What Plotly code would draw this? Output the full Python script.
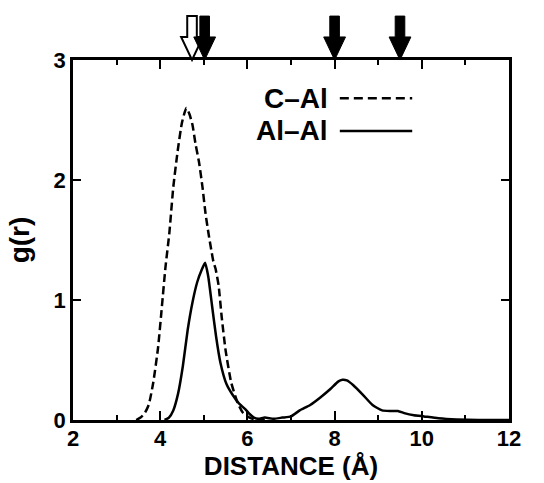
import plotly.graph_objects as go

# ---- data ----
c_al_x = [3.45, 3.55, 3.65, 3.74, 3.84, 3.95, 4.04, 4.12, 4.21, 4.3, 4.4, 4.5, 4.6,
          4.67, 4.74, 4.81, 4.89, 4.97, 5.04, 5.11, 5.17, 5.22, 5.27, 5.34, 5.41, 5.5,
          5.63, 5.78, 5.9, 6.05, 6.2, 6.4]
c_al_y = [0.0, 0.02, 0.06, 0.13, 0.31, 0.6, 0.95, 1.27, 1.56, 1.94, 2.24, 2.48, 2.60,
          2.55, 2.46, 2.3, 2.15, 1.94, 1.72, 1.55, 1.42, 1.32, 1.26, 1.12, 0.86, 0.58,
          0.31, 0.14, 0.06, 0.02, 0.0, 0.0]

al_al_x = [4.1, 4.2, 4.3, 4.41, 4.52, 4.63, 4.74, 4.85, 4.95, 5.03, 5.1, 5.19, 5.28, 5.38,
           5.52, 5.66, 5.8, 5.95, 6.05, 6.15, 6.25, 6.4, 6.6, 6.8, 7.0, 7.2, 7.44, 7.68,
           7.91, 8.08, 8.18, 8.28, 8.43, 8.65, 8.87, 9.09, 9.28, 9.45, 9.62, 9.82, 10.05,
           10.38, 10.8, 11.3, 12.0]
al_al_y = [0.0, 0.02, 0.08, 0.22, 0.45, 0.75, 0.98, 1.15, 1.25, 1.31, 1.2, 0.95, 0.7,
           0.48, 0.3, 0.21, 0.14, 0.09, 0.05, 0.02, 0.01, 0.02, 0.01, 0.02, 0.03, 0.08,
           0.125, 0.19, 0.26, 0.32, 0.335, 0.33, 0.29, 0.21, 0.125, 0.08, 0.075, 0.075,
           0.055, 0.04, 0.03, 0.015, 0.005, 0.0, 0.0]

series_names = ["C\u2013Al", "Al\u2013Al"]
arrow_open_x = [4.73]
arrow_filled_x = [5.02, 8.0, 9.5]

x_tickvals = [2, 4, 6, 8, 10, 12]
y_tickvals = [0, 1, 2, 3]

FONT = "Liberation Sans"

fig = go.Figure()
fig.add_trace(go.Scatter(x=c_al_x, y=c_al_y, mode="lines", name=series_names[0],
                         line=dict(color="black", width=2.5, dash="8px,4px",
                                   shape="spline", smoothing=0.5),
                         showlegend=False))
fig.add_trace(go.Scatter(x=al_al_x, y=al_al_y, mode="lines", name=series_names[1],
                         line=dict(color="black", width=2.5, shape="spline", smoothing=0.5),
                         showlegend=False))

# arrows above the plot
sw, hw = 0.11, 0.25
y_tip, y_head, y_top = 1.0, 1.064, 1.122


def arrow_path(x0):
    return (f"M {x0-sw},{y_top} L {x0+sw},{y_top} L {x0+sw},{y_head} L {x0+hw},{y_head} "
            f"L {x0},{y_tip} L {x0-hw},{y_head} L {x0-sw},{y_head} Z")


shapes = []
for xa in arrow_open_x:
    shapes.append(dict(type="path", path=arrow_path(xa), xref="x", yref="paper",
                       fillcolor="white", line=dict(color="black", width=2), layer="above"))
for xa in arrow_filled_x:
    shapes.append(dict(type="path", path=arrow_path(xa), xref="x", yref="paper",
                       fillcolor="black", line=dict(color="black", width=1), layer="above"))

# legend (text left, line sample right)
leg_y = [0.894, 0.803]
leg_dash = ["9px,5px", "solid"]
annotations = []
for name, yy, dsh in zip(series_names, leg_y, leg_dash):
    annotations.append(dict(text=name, x=0.589, y=yy, xref="paper", yref="paper",
                            xanchor="right", yanchor="middle", showarrow=False,
                            font=dict(family=FONT, size=28, color="black", weight="bold")))
    shapes.append(dict(type="line", x0=0.612, x1=0.778, y0=yy, y1=yy, xref="paper",
                       yref="paper", line=dict(color="black", width=2.5, dash=dsh)))

axis_common = dict(showline=True, linecolor="black", linewidth=2.5, mirror="ticks",
                   ticks="inside", tickcolor="black", tickwidth=2, showgrid=False,
                   zeroline=False,
                   tickfont=dict(family=FONT, size=22, color="black", weight="bold"))

fig.update_layout(
    width=544, height=483,
    margin=dict(l=73, r=35, t=60, b=63),
    plot_bgcolor="white", paper_bgcolor="white",
    font=dict(family=FONT, color="black"),
    xaxis=dict(range=[2, 12], tickvals=x_tickvals, ticklen=9, ticklabelstandoff=-3,
               minor=dict(dtick=1, ticklen=5, ticks="inside", tickcolor="black", tickwidth=2),
               title=dict(text="DISTANCE (\u00c5)", standoff=2,
                          font=dict(family=FONT, size=26, color="black", weight="bold")),
               **axis_common),
    yaxis=dict(range=[0, 3], tickvals=y_tickvals, ticklen=8,
               title=dict(text="g(r)", standoff=16,
                          font=dict(family=FONT, size=28, color="black", weight="bold")),
               **axis_common),
    shapes=shapes,
    annotations=annotations,
)

# remove the browser's default 8px page margin so the figure fills the window exactly
fig.write_html("out.html", config={"displayModeBar": False},
               post_script="document.body.style.margin='0';")
